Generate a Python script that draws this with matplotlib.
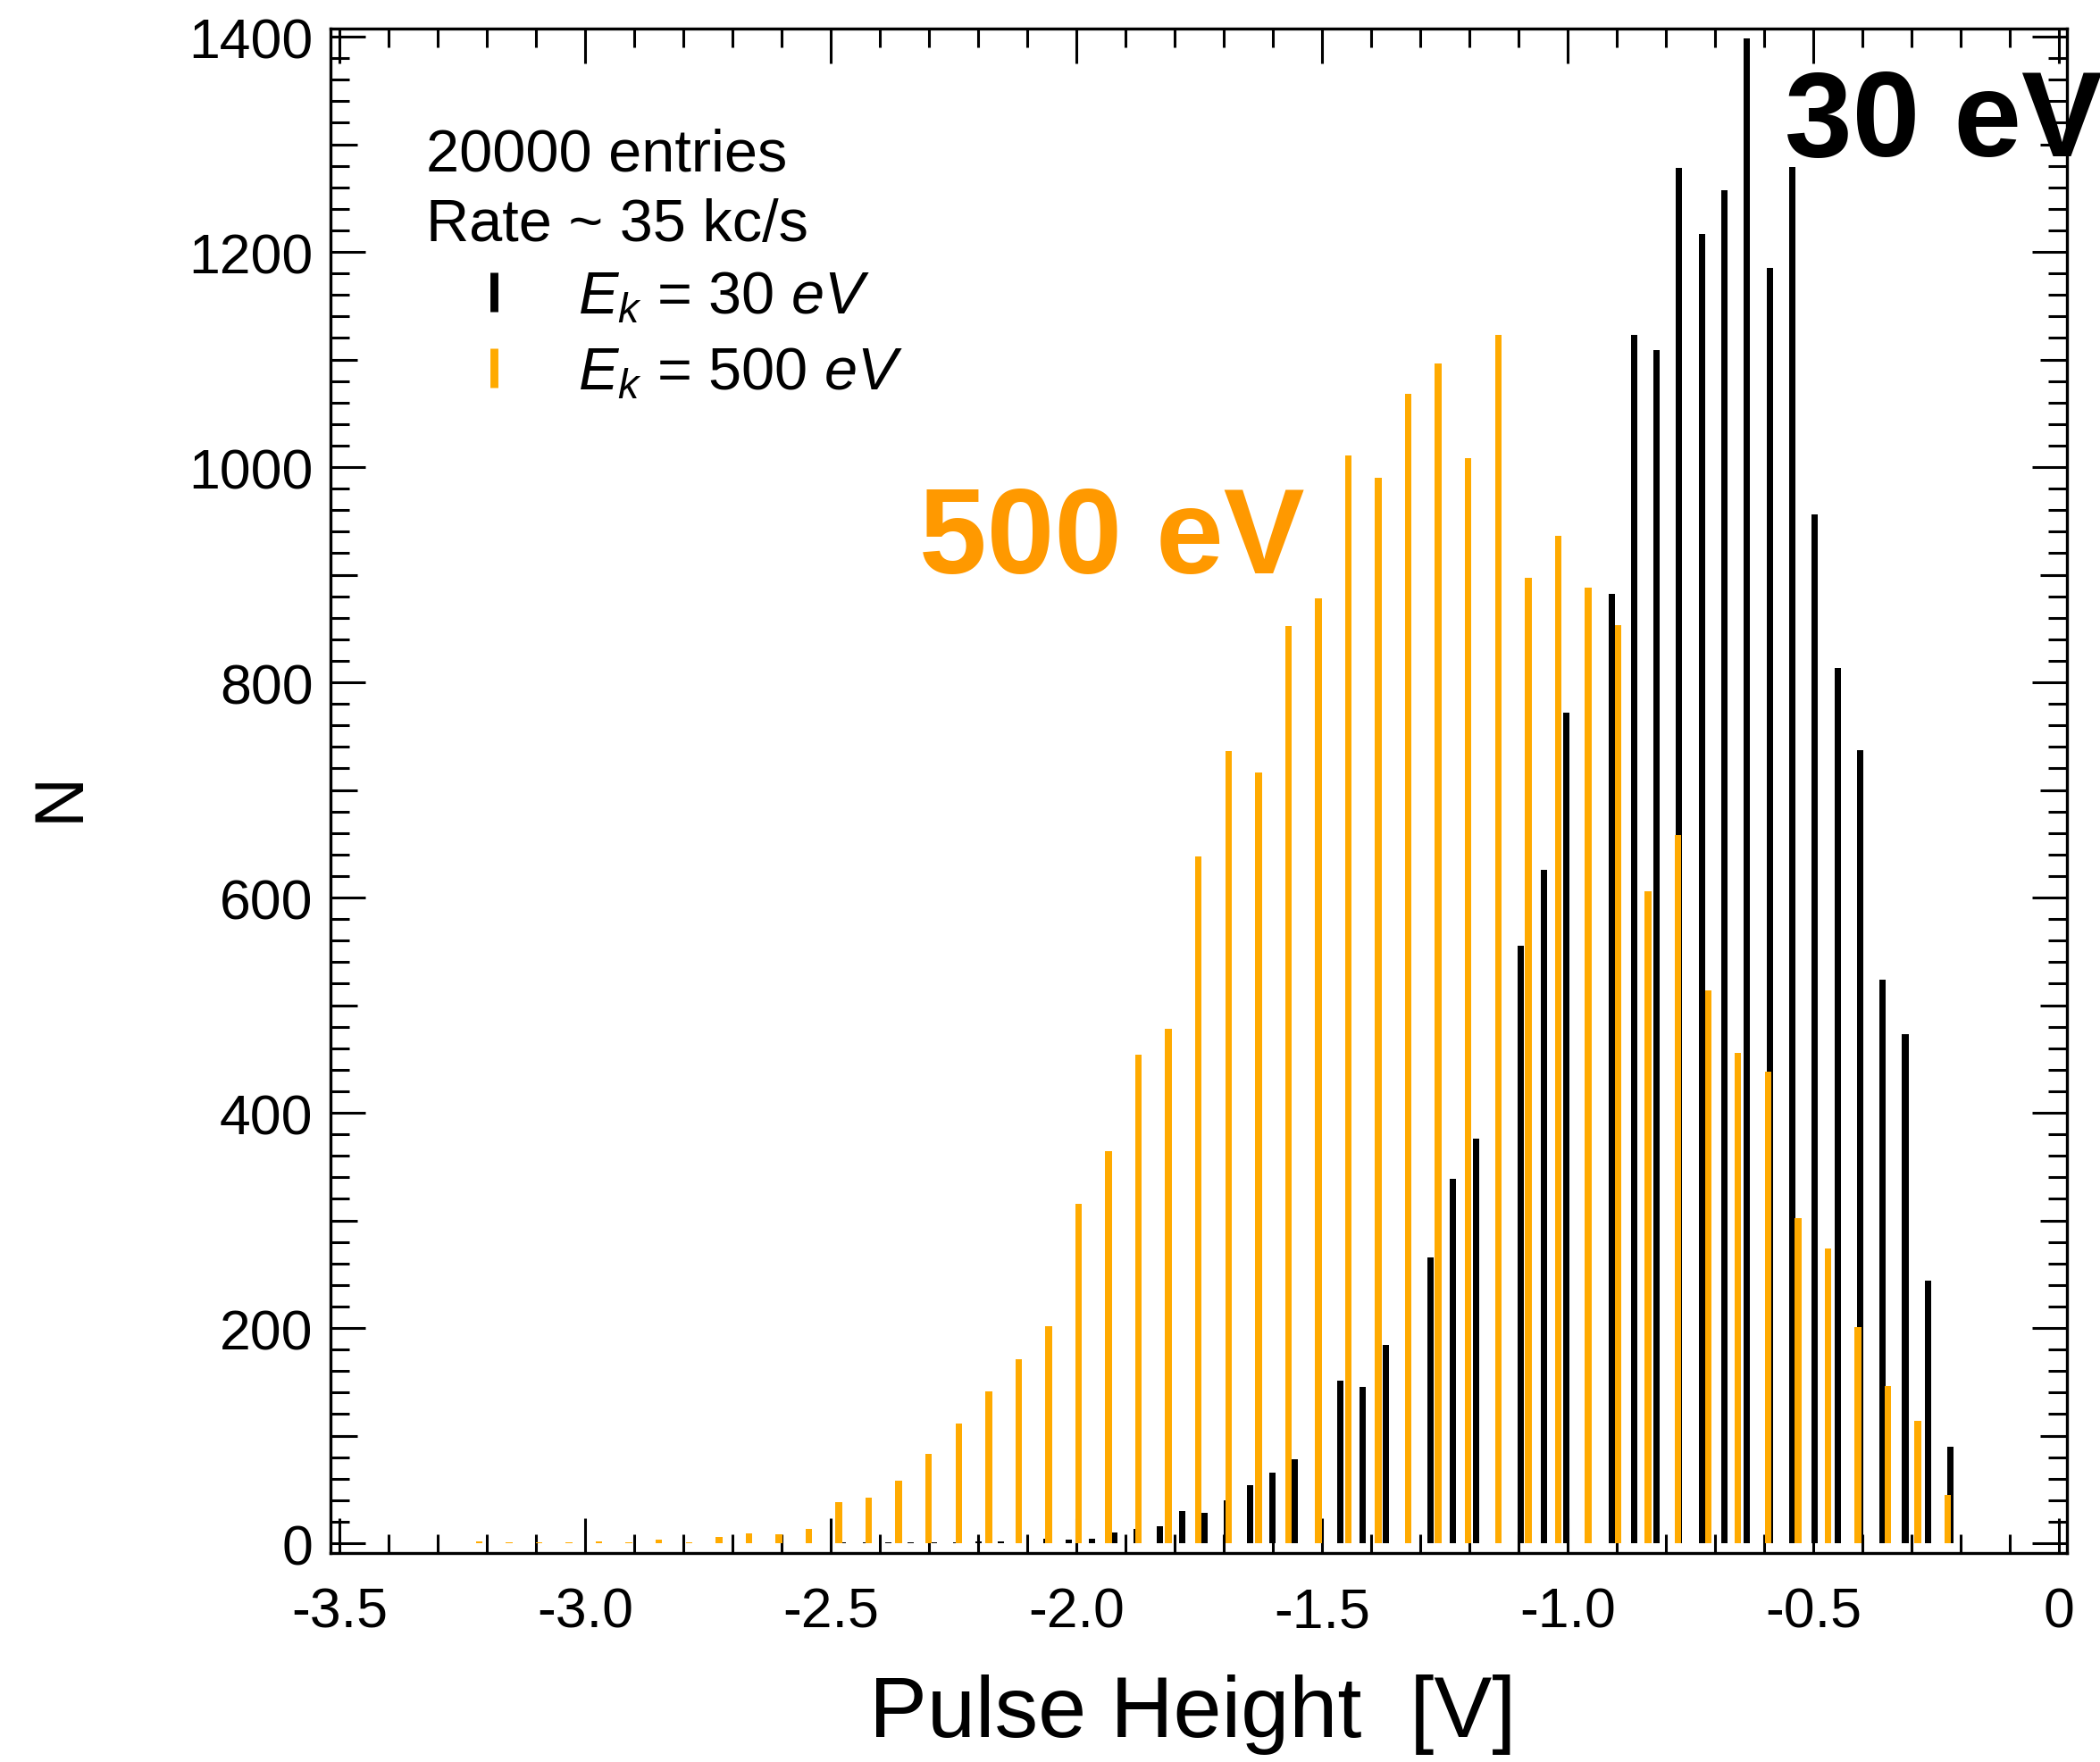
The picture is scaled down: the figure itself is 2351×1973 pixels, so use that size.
import matplotlib
matplotlib.use("Agg")
import matplotlib.pyplot as plt
import numpy as np
from matplotlib.ticker import MultipleLocator, FuncFormatter
from matplotlib.lines import Line2D

# ---------------- data ----------------
# E_k = 30 eV histogram: 50 bins, first/last bin centre [V]
e30_first_center = -2.4747
e30_last_center = -0.2207
e30_counts = [1, 1, 1, 1, 1, 1, 2, 2, 0, 4,
              3, 4, 10, 13, 16, 30, 28, 40, 54, 66,
              78, 96, 151, 145, 184, 203, 266, 339, 376, 456,
              555, 626, 772, 860, 882, 1123, 1109, 1278, 1217, 1257,
              1398, 1185, 1279, 956, 813, 737, 524, 473, 244, 90]

# E_k = 500 eV histogram: 50 bins, first/last bin centre [V]
e500_first_center = -3.2155
e500_last_center = -0.2260
e500_counts = [2, 1, 1, 1, 2, 1, 3, 1, 6, 9,
               8, 13, 38, 42, 58, 83, 111, 141, 171, 202,
               315, 364, 454, 478, 638, 736, 716, 852, 878, 1011,
               990, 1068, 1096, 1008, 1123, 897, 936, 888, 853, 606,
               658, 514, 456, 438, 302, 274, 201, 146, 114, 45]

x_major_ticks = [-3.5, -3.0, -2.5, -2.0, -1.5, -1.0, -0.5, 0.0]
y_major_ticks = [0, 200, 400, 600, 800, 1000, 1200, 1400]
y_medium_ticks = [100, 300, 500, 700, 900, 1100, 1300]

info_lines = ["20000 entries", "Rate ~ 35 kc/s"]
series_labels = [r"$E_k$ = 30 $eV$", r"$E_k$ = 500 $eV$"]

# ---------------- style ----------------
W, H, DPI = 2351, 1974, 200
plt.rcParams["font.family"] = ["Liberation Sans", "DejaVu Sans"]
plt.rcParams["axes.unicode_minus"] = False
plt.rcParams["mathtext.fontset"] = "custom"
plt.rcParams["mathtext.rm"] = "Liberation Sans"
plt.rcParams["mathtext.it"] = "Liberation Sans:italic"
plt.rcParams["mathtext.bf"] = "Liberation Sans:bold"

BLACK = "#000000"
ORANGE = "#FFAA00"
ORANGE_TXT = "#FF9900"

fig = plt.figure(figsize=(W / DPI, H / DPI), dpi=DPI)
ax = fig.add_axes([370 / W, 1 - 1740 / H, (2314 - 370) / W, (1740 - 33) / H])

x30 = np.linspace(e30_first_center, e30_last_center, len(e30_counts))
x500 = np.linspace(e500_first_center, e500_last_center, len(e500_counts))

ax.bar(x30, e30_counts, width=0.0128, color=BLACK, linewidth=0, zorder=2)
ax.bar(x500, e500_counts, width=0.0135, color=ORANGE, linewidth=0, zorder=3)

ax.set_xlim(-3.518, 0.0164)
ax.set_ylim(-9.1, 1407.5)

for s in ax.spines.values():
    s.set_linewidth(1.2)

ax.set_xticks(x_major_ticks)
ax.xaxis.set_minor_locator(MultipleLocator(0.1))
ax.xaxis.set_major_formatter(FuncFormatter(lambda v, p: "0" if abs(v) < 1e-9 else f"{v:.1f}"))
ax.set_yticks(y_major_ticks)
ax.yaxis.set_minor_locator(MultipleLocator(20))

ax.tick_params(which="both", direction="in", top=True, right=True, width=1.1, zorder=5)
ax.tick_params(which="major", length=14.2)
ax.tick_params(which="minor", length=7.4)
ax.tick_params(axis="both", labelsize=22.5)
ax.tick_params(axis="x", pad=13)
ax.tick_params(axis="y", pad=7)

for loc in ("left", "right"):
    sec = ax.secondary_yaxis(loc)
    sec.set_yticks(y_medium_ticks)
    sec.tick_params(direction="in", length=10.8, width=1.1, labelleft=False, labelright=False)
    for s in sec.spines.values():
        s.set_visible(False)

ax.set_xlabel("Pulse Height  [V]", fontsize=35)
ax.xaxis.set_label_coords(0.4964, -0.079)
ax.set_ylabel("N", fontsize=28)
ax.yaxis.set_label_coords(-0.137, 0.497)

# info text
fig.text(477 / W, 1 - 192 / H, info_lines[0], fontsize=24, ha="left", va="baseline")
fig.text(477 / W, 1 - 270 / H, info_lines[1], fontsize=24, ha="left", va="baseline")

handles = [
    Line2D([], [], color=BLACK, marker="|", linestyle="none", markersize=16, markeredgewidth=3.2),
    Line2D([], [], color=ORANGE, marker="|", linestyle="none", markersize=16, markeredgewidth=3.2),
]
ax.legend(handles, series_labels, loc="upper left", bbox_to_anchor=(486 / W, 1 - 303 / H),
          bbox_transform=fig.transFigure, frameon=False, fontsize=24, borderpad=0,
          borderaxespad=0, handlelength=2.0, handletextpad=0.42, labelspacing=0.35)

# big annotations
fig.text(1998 / W, 1 - 175 / H, "30 eV", fontsize=49, fontweight="bold", color=BLACK,
         ha="left", va="baseline")
fig.text(1029 / W, 1 - 642 / H, "500 eV", fontsize=49, fontweight="bold", color=ORANGE_TXT,
         ha="left", va="baseline")

fig.savefig("out.png", dpi=DPI)
